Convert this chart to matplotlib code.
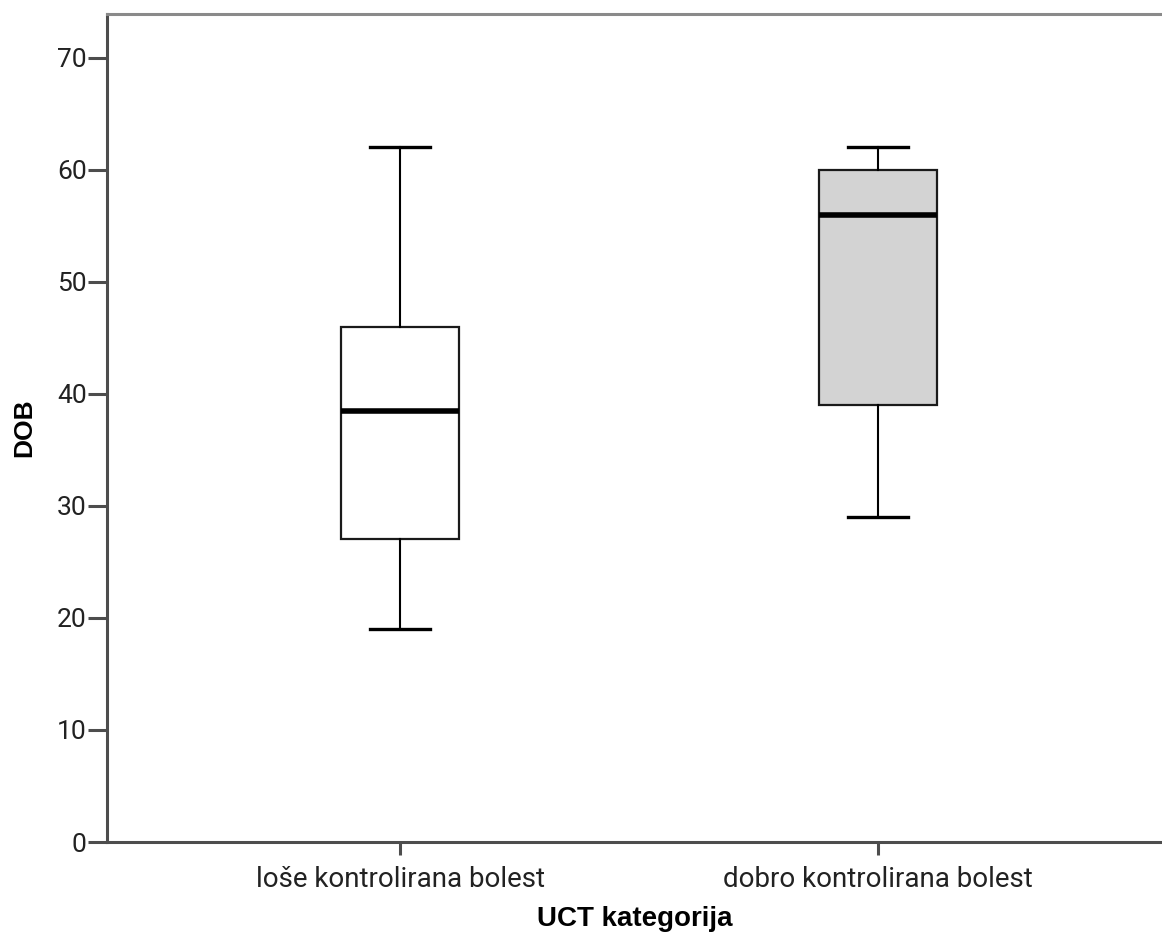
import matplotlib
matplotlib.use("Agg")
import matplotlib.pyplot as plt

categories = ["loše kontrolirana bolest", "dobro kontrolirana bolest"]
whislo = [19, 29]
q1 = [27, 39]
med = [38.5, 56]
q3 = [46, 60]
whishi = [62, 62]
fills = ["#ffffff", "#d3d3d3"]
yticks = [0, 10, 20, 30, 40, 50, 60, 70]

W, H = 1162, 940
fig = plt.figure(figsize=(W / 100, H / 100), dpi=100)
ax = fig.add_axes([107 / W, 98 / H, (1162 - 107) / W, 828 / H])

stats = []
for i, c in enumerate(categories):
    stats.append(dict(label=c, whislo=whislo[i], q1=q1[i], med=med[i], q3=q3[i], whishi=whishi[i], fliers=[]))

bp = ax.bxp(stats, positions=[1, 2], widths=0.247, patch_artist=True, capwidths=0.1255,
            boxprops=dict(edgecolor="#1a1a1a", linewidth=1.6),
            medianprops=dict(color="#000000", linewidth=4.0, solid_capstyle="butt"),
            whiskerprops=dict(color="#000000", linewidth=1.5),
            capprops=dict(color="#000000", linewidth=2.4))
for p, f in zip(bp["boxes"], fills):
    p.set_facecolor(f)

ax.set_xlim(0.387, 2.594)
ax.set_ylim(0, 73.9)
ax.set_yticks(yticks)
ax.set_xticks([1, 2])
ax.set_xticklabels(categories)

for s in ["left", "bottom"]:
    ax.spines[s].set_color("#4d4d4d")
    ax.spines[s].set_linewidth(2.2)
ax.spines["top"].set_color("#8a8a8a")
ax.spines["top"].set_linewidth(2.2)
ax.spines["right"].set_visible(False)

ax.tick_params(axis="y", length=13.5, width=2.2, color="#4d4d4d", pad=1, labelsize=19,
               labelcolor="#222222")
ax.tick_params(axis="x", length=9, width=2.2, color="#4d4d4d", pad=8, labelsize=20,
               labelcolor="#222222")
for lbl in ax.get_xticklabels() + ax.get_yticklabels():
    lbl.set_fontfamily("Roboto")

ax.set_xlabel("UCT kategorija", fontsize=20, fontweight="bold", family="Liberation Sans", labelpad=10)
ax.set_ylabel("DOB", fontsize=19, fontweight="bold", family="Liberation Sans", labelpad=15)

fig.savefig("out.png", dpi=100)
